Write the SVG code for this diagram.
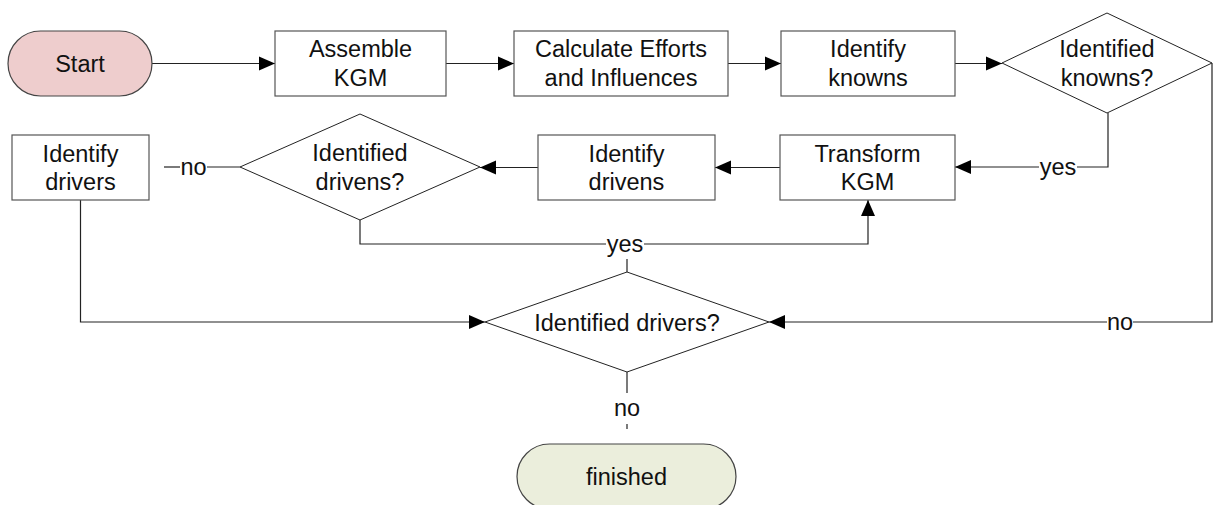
<svg xmlns="http://www.w3.org/2000/svg" width="1217" height="505" viewBox="0 0 1217 505">
<style>
  .box{fill:#fff;stroke:#555;stroke-width:1.2}
  .dia{fill:#fff;stroke:#222;stroke-width:1}
  .t{font-family:"Liberation Sans",Arial,sans-serif;font-size:23.5px;fill:#111;text-anchor:middle}
  .c{fill:none;stroke:#222;stroke-width:1.2}
  .arr{marker-end:url(#ah)}
</style>
<defs>
  <marker id="ah" markerUnits="userSpaceOnUse" markerWidth="16" markerHeight="16" viewBox="0 0 16 16" refX="16" refY="8" orient="auto">
    <path d="M0,1 L16,8 L0,15 Z" fill="#000"/>
  </marker>
</defs>
<rect width="1217" height="505" fill="#fff"/>

<g id="connectors">
  <path class="c arr" d="M152,63.5 H275"/>
  <path class="c arr" d="M446,63.5 H514"/>
  <path class="c arr" d="M728,63.5 H781"/>
  <path class="c arr" d="M955,63.5 H1002"/>
  <path class="c" d="M1108,113 V167 H1077"/>
  <path class="c arr" d="M1039,167 H955"/>
  <text class="t" x="1058" y="175">yes</text>
  <path class="c" d="M1212,63 V322 H1133"/>
  <path class="c arr" d="M1107,322 H769"/>
  <text class="t" x="1120" y="330">no</text>
  <path class="c arr" d="M780,167.5 H715"/>
  <path class="c arr" d="M538,167.5 H480"/>
  <path class="c" d="M240,167 H207"/>
  <path class="c" d="M180,167 H164"/>
  <text class="t" x="193.5" y="175">no</text>
  <path class="c" d="M360,220 V244 H606"/>
  <path class="c arr" d="M644,244 H868 V200"/>
  <text class="t" x="625" y="252">yes</text>
  <path class="c" d="M627,259 V272"/>
  <path class="c arr" d="M80.5,200 V322 H485"/>
  <path class="c" d="M627,372 V393"/>
  <path class="c" d="M627,424 V429"/>
  <text class="t" x="627" y="416">no</text>
</g>

<g id="start">
  <rect x="8" y="31" width="144" height="65" rx="32.5" fill="#EECDCD" stroke="#444" stroke-width="1.2"/>
  <text class="t" x="80" y="72">Start</text>
</g>
<g id="assemble">
  <rect class="box" x="275" y="31" width="171" height="65"/>
  <text class="t" x="360.5" y="57">Assemble</text>
  <text class="t" x="360.5" y="85.5">KGM</text>
</g>
<g id="calculate">
  <rect class="box" x="514" y="31" width="214" height="65"/>
  <text class="t" x="621" y="57">Calculate Efforts</text>
  <text class="t" x="621" y="85.5">and Influences</text>
</g>
<g id="identify-knowns">
  <rect class="box" x="781" y="31" width="174" height="65"/>
  <text class="t" x="868" y="57">Identify</text>
  <text class="t" x="868" y="85.5">knowns</text>
</g>
<g id="identified-knowns">
  <polygon class="dia" points="1107,13 1212,63 1107,113 1002,63"/>
  <text class="t" x="1107" y="57">Identified</text>
  <text class="t" x="1107" y="85.5">knowns?</text>
</g>
<g id="transform">
  <rect class="box" x="780" y="135" width="175" height="65"/>
  <text class="t" x="867.5" y="161.5">Transform</text>
  <text class="t" x="867.5" y="190">KGM</text>
</g>
<g id="identify-drivens">
  <rect class="box" x="538" y="135" width="177" height="65"/>
  <text class="t" x="626.5" y="161.5">Identify</text>
  <text class="t" x="626.5" y="190">drivens</text>
</g>
<g id="identified-drivens">
  <polygon class="dia" points="360,114 480,167 360,220 240,167"/>
  <text class="t" x="360" y="161">Identified</text>
  <text class="t" x="360" y="189.5">drivens?</text>
</g>
<g id="identify-drivers">
  <rect class="box" x="12" y="135" width="137" height="65"/>
  <text class="t" x="80.5" y="161.5">Identify</text>
  <text class="t" x="80.5" y="190">drivers</text>
</g>
<g id="identified-drivers">
  <polygon class="dia" points="627,272 769,322 627,372 485,322"/>
  <text class="t" x="627" y="330.5">Identified drivers?</text>
</g>
<g id="finished">
  <rect x="517" y="444" width="219" height="65" rx="32.5" fill="#EBEEDC" stroke="#444" stroke-width="1.2"/>
  <text class="t" x="626.5" y="485">finished</text>
</g>
</svg>
